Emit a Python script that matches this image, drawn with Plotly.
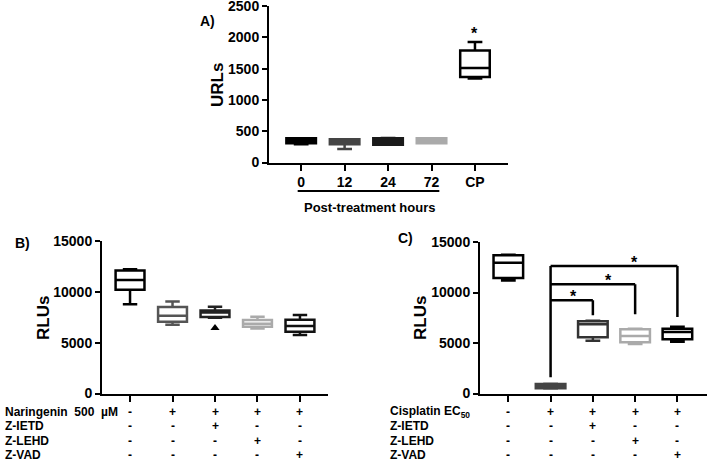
import plotly.graph_objects as go

W, H = 709, 463

# ---------------- data ----------------
# Panel A
a_categories = ["0", "12", "24", "72", "CP"]
a_min = [290, 215, 285, 306, 1340]
a_q1 = [306, 290, 285, 306, 1365]
a_median = [330, 320, 330, 340, 1510]
a_q3 = [387, 371, 387, 387, 1790]
a_max = [387, 371, 392, 387, 1925]
a_colors = ["#000000", "#444444", "#1a1a1a", "#aaaaaa", "#000000"]
a_star_value = 2060
a_yticks = [0, 500, 1000, 1500, 2000, 2500]

# Panel B
b_min = [8790, 6765, 7450, 6402, 5755]
b_q1 = [10196, 7059, 7520, 6569, 6078]
b_median = [11176, 7647, 7970, 6863, 6637]
b_q3 = [12088, 8500, 8167, 7225, 7255]
b_max = [12225, 9049, 8529, 7549, 7716]
b_colors = ["#000000", "#555555", "#222222", "#aaaaaa", "#111111"]
b_outlier_x = [2]
b_outlier_y = [6441]

# Panel C
c_min = [11176, 490, 5225, 4902, 5127]
c_q1 = [11441, 520, 5559, 5068, 5363]
c_median = [12941, 745, 6863, 5686, 6078]
c_q3 = [13696, 941, 7157, 6373, 6402]
c_max = [13750, 960, 7200, 6420, 6598]
c_colors = ["#000000", "#444444", "#333333", "#aaaaaa", "#000000"]
c_fills = ["white", "#555555", "white", "white", "white"]
# significance brackets: from group 1 to target group
c_bracket_target = [2, 3, 4]
c_bracket_height = [9245, 10814, 12618]
c_bracket_drop = [7745, 7843, 7578]
c_star_x = [1.55, 2.38, 2.99]
c_bracket_base = 1600

rlu_yticks = [0, 5000, 10000, 15000]
cat_positions = [0, 1, 2, 3, 4]

b_row_labels = ["Naringenin  500  µM", "Z-IETD", "Z-LEHD", "Z-VAD"]
c_row_labels = ["Cisplatin EC<sub>50</sub>", "Z-IETD", "Z-LEHD", "Z-VAD"]
row_signs = [
    ["-", "+", "+", "+", "+"],
    ["-", "-", "+", "-", "-"],
    ["-", "-", "-", "+", "-"],
    ["-", "-", "-", "-", "+"],
]

# ---------------- helpers ----------------
def px(x):
    return x / W

def py(y):
    return 1 - y / H

FONT = "Liberation Sans, Arial, sans-serif"

# panel frames in pixels: (left, right, bottom, top) and axis ranges
frames = {
    "A": (269, 508, 162.5, 6),
    "B": (102, 328, 393.5, 241),
    "C": (480, 707, 393.5, 242),
}
x_ranges = {"A": [-0.74, 4.76], "B": [-0.66, 4.66], "C": [-0.67, 4.7]}
y_ranges = {"A": [0, 2500], "B": [0, 15000], "C": [0, 15000]}

fig = go.Figure()

def add_box(axis_x, axis_y, pos, lo, q1, med, q3, hi, color, fill, width):
    fig.add_trace(go.Box(
        x=[pos], lowerfence=[lo], q1=[q1], median=[med], q3=[q3], upperfence=[hi],
        width=width, whiskerwidth=0.5, line=dict(color=color, width=2.5),
        fillcolor=fill, boxpoints=False, xaxis=axis_x, yaxis=axis_y,
        orientation="v", showlegend=False, hoverinfo="skip"))

# Panel A
for i in range(5):
    fill = a_colors[i] if i < 4 else "white"
    add_box("x", "y", cat_positions[i], a_min[i], a_q1[i], a_median[i], a_q3[i], a_max[i],
            a_colors[i], fill, 0.68)

# Panel B
for i in range(5):
    add_box("x2", "y2", cat_positions[i], b_min[i], b_q1[i], b_median[i], b_q3[i], b_max[i],
            b_colors[i], "white", 0.68)
fig.add_trace(go.Scatter(x=b_outlier_x, y=b_outlier_y, mode="markers",
                         marker=dict(symbol="triangle-up", size=8, color="black"),
                         xaxis="x2", yaxis="y2", showlegend=False, hoverinfo="skip"))

# Panel C
for i in range(5):
    add_box("x3", "y3", cat_positions[i], c_min[i], c_q1[i], c_median[i], c_q3[i], c_max[i],
            c_colors[i], c_fills[i], 0.7)

shapes = []
annotations = []

def ann(**kw):
    base = dict(showarrow=False, xanchor="center", yanchor="middle")
    base.update(kw)
    annotations.append(base)

# y-axis spines (same place as the axis lines), drawn in the axes' own domains
for key, xa, ya in [("A", "x", "y"), ("B", "x2", "y2"), ("C", "x3", "y3")]:
    left, right, bottom, top = frames[key]
    shapes.append(dict(type="line", xref="paper", yref="paper",
                       x0=px(left - 1), x1=px(left - 1), y0=py(bottom + 2), y1=py(top),
                       line=dict(color="black", width=2), layer="above"))

# brackets in C
shapes.append(dict(type="line", xref="x3", yref="y3", x0=1, x1=1,
                   y0=c_bracket_base, y1=max(c_bracket_height),
                   line=dict(color="black", width=2.5)))
for tgt, h, d, sx in zip(c_bracket_target, c_bracket_height, c_bracket_drop, c_star_x):
    shapes.append(dict(type="line", xref="x3", yref="y3", x0=1, x1=tgt, y0=h, y1=h,
                       line=dict(color="black", width=2.5)))
    shapes.append(dict(type="line", xref="x3", yref="y3", x0=tgt, x1=tgt, y0=h, y1=d,
                       line=dict(color="black", width=2.5)))
    ann(xref="x3", yref="y3", x=sx, y=h, yshift=4, text="<b>*</b>",
        font=dict(size=16, color="black", family=FONT))

# star in A
ann(xref="x", yref="y", x=4, y=a_star_value, text="<b>*</b>",
    font=dict(size=16, color="black", family=FONT))

# Post-treatment line & label
shapes.append(dict(type="line", xref="x", yref="paper", x0=-0.08, x1=3.18,
                   y0=py(191), y1=py(191), line=dict(color="black", width=2)))
ann(xref="paper", yref="paper", x=px(369), y=py(207),
    text="<b>Post-treatment hours</b>", font=dict(size=13, color="black", family=FONT))

# panel labels
for lab, x, y in [("A)", 207, 21), ("B)", 22, 243), ("C)", 405, 238)]:
    ann(xref="paper", yref="paper", x=px(x), y=py(y), text=f"<b>{lab}</b>",
        font=dict(size=14, color="black", family=FONT))

# axis titles
for lab, x, y in [("URLs", 218, 85), ("RLUs", 43, 318), ("RLUs", 420, 318)]:
    ann(xref="paper", yref="paper", x=px(x), y=py(y), text=f"<b>{lab}</b>",
        textangle=-90, font=dict(size=17, color="black", family=FONT))

# tables
row_y = [411.5, 426, 440.5, 455]
for labels, xlab, xref in [(b_row_labels, 3, "x2"), (c_row_labels, 388, "x3")]:
    for r, (lab, yy) in enumerate(zip(labels, row_y)):
        ann(xref="paper", yref="paper", x=px(xlab), y=py(yy), text=f"<b>{lab}</b>",
            xanchor="left", font=dict(size=12, color="black", family=FONT))
        for i, s in enumerate(row_signs[r]):
            ann(xref=xref, yref="paper", x=cat_positions[i], y=py(yy), text=f"<b>{s}</b>",
                font=dict(size=12, color="black", family=FONT))

def xaxis(key, anchor, labels=None):
    left, right, bottom, top = frames[key]
    d = dict(domain=[px(left), px(right)], range=x_ranges[key], anchor=anchor,
             showline=True, linecolor="black", linewidth=2,
             ticks="outside", ticklen=6, tickwidth=2, tickcolor="black",
             tickmode="array", tickvals=cat_positions, showgrid=False, zeroline=False,
             fixedrange=True)
    if labels:
        d.update(ticktext=[f"<b>{t}</b>" for t in labels], showticklabels=True,
                 tickfont=dict(size=14, color="black", family=FONT))
    else:
        d.update(showticklabels=False)
    return d

def yaxis(key, ticks, anchor):
    left, right, bottom, top = frames[key]
    return dict(domain=[py(bottom), py(top)], range=y_ranges[key], anchor=anchor,
                side="left", showline=True, linecolor="black", linewidth=2,
                ticks="outside", ticklen=5, tickwidth=2, tickcolor="black",
                tickmode="array", tickvals=ticks, ticktext=[f"<b>{t}</b>" for t in ticks],
                tickfont=dict(size=14, color="black", family=FONT),
                ticklabeloverflow="allow",
                showgrid=False, zeroline=False, fixedrange=True)

fig.update_layout(
    template="none",
    width=W, height=H, margin=dict(l=0, r=0, t=0, b=0, pad=0, autoexpand=False),
    paper_bgcolor="white", plot_bgcolor="white", showlegend=False,
    dragmode=False, hovermode=False,
    font=dict(family=FONT, color="black"),
    xaxis=xaxis("A", "y", a_categories),
    yaxis=yaxis("A", a_yticks, "x"),
    xaxis2=xaxis("B", "y2"),
    yaxis2=yaxis("B", rlu_yticks, "x2"),
    xaxis3=xaxis("C", "y3"),
    yaxis3=yaxis("C", rlu_yticks, "x3"),
    shapes=shapes, annotations=annotations,
)

fig.write_html("out.html", config={"displayModeBar": False, "staticPlot": True},
               post_script="document.body.style.margin='0px';document.body.style.padding='0px';")
